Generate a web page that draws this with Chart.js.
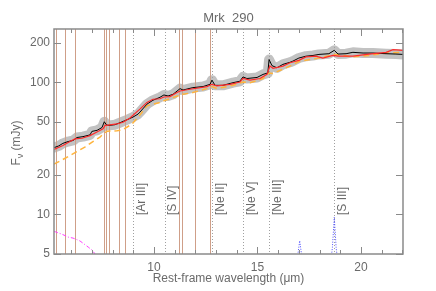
<!DOCTYPE html>
<html>
<head>
<meta charset="utf-8">
<script src="https://cdn.jsdelivr.net/npm/chart.js@4.4.0/dist/chart.umd.min.js"></script>
<style>
  html, body { margin: 0; padding: 0; background: #fff; }
</style>
</head>
<body>
<canvas id="sedChart" width="436" height="291"></canvas>
<script>
// observed spectrum (black, with grey error band)
const specWave = [5.17, 5.4, 5.6, 5.85, 6.1, 6.28, 6.57, 6.91, 7.0, 7.25, 7.49, 7.6, 7.71, 7.83, 8.12, 8.36, 8.7, 8.99, 9.23, 9.32, 9.66, 9.95, 10.29, 10.48, 10.68, 10.92, 11.26, 11.4, 11.88, 12.37, 12.71, 12.8, 12.95, 13.33, 13.82, 14.15, 14.3, 14.49, 14.98, 15.27, 15.5, 15.56, 15.7, 15.94, 16.23, 16.57, 16.71, 17.0, 17.34, 17.68, 17.97, 18.45, 18.71, 18.89, 19.28, 19.61, 20.1, 20.58, 21.21, 21.69, 22.03];
const specFlux = [32.0, 33.0, 34.5, 35.6, 36.3, 38.2, 38.8, 40.0, 42.5, 43.3, 45.5, 50.3, 47.5, 47.2, 47.8, 49.5, 52.1, 54.6, 57.5, 59.5, 68.4, 73.2, 77.1, 80.3, 78.9, 81.2, 89.7, 87.5, 91.3, 93.0, 96.7, 104, 95.0, 95.0, 99.5, 102, 110, 107, 109, 115, 118, 149, 134, 129, 137, 142, 145, 153, 158, 160, 163, 165, 175, 164, 165, 169, 167, 167, 165, 164, 163];

// model fit (red)
const modelWave = [5.17, 5.6, 5.94, 6.18, 6.52, 6.91, 7.29, 7.54, 7.63, 7.78, 8.21, 8.5, 8.84, 9.32, 9.66, 9.95, 10.29, 10.48, 10.77, 11.11, 11.26, 11.74, 12.56, 12.8, 13.04, 13.67, 14.15, 14.3, 14.64, 15.12, 15.46, 15.6, 15.75, 16.23, 16.57, 17.0, 17.34, 17.82, 18.16, 18.64, 18.9, 19.61, 20.39, 21.21, 21.55, 22.03];
const modelFlux = [31.0, 33.2, 35.6, 37.3, 37.7, 39.5, 42.4, 44.4, 47.0, 47.5, 48.4, 49.9, 53.7, 62.7, 70.5, 74.5, 75.2, 77.5, 78.0, 83.8, 86.1, 88.7, 93.0, 96.7, 94.0, 96.7, 100.7, 107, 104, 107, 115, 133, 128, 133, 141, 147, 156, 158, 153, 160, 158, 158, 164, 169, 177, 175];

// continuum component (orange dashed)
const contWave = [5.17, 5.5, 5.94, 6.66, 7.05, 7.39, 7.54, 7.73, 8.21, 8.5, 8.94, 9.32, 9.66, 10.29, 10.48, 10.92, 11.4, 11.88, 12.56, 12.8, 13.04, 13.82, 14.3, 14.64, 15.27, 15.56, 15.75, 16.57, 17.0, 17.97, 18.74, 19.61, 20.39, 21.21, 22.03];
const contFlux = [24.0, 25.5, 27.9, 32.3, 35.6, 38.4, 40.6, 42.6, 43.0, 43.8, 48.4, 56.5, 66.4, 70.5, 72.5, 76.8, 81.2, 83.8, 89.7, 93.0, 89.7, 95.0, 100.7, 99.5, 107, 118, 117, 133, 144, 153, 163, 156, 160, 167, 169];

// stellar component (magenta dash-dot)
const starWave = [5.17, 5.25, 5.4, 5.54, 5.7, 5.85, 6.09, 6.25, 6.43, 6.67, 6.85, 7.0, 7.2];
const starFlux = [7.4, 7.36, 7.2, 7.08, 6.9, 6.72, 6.6, 6.45, 6.27, 5.88, 5.6, 5.37, 4.9];

// emission lines (blue dotted)
const gasWave = [16.93, 16.99, 17.04, 17.09, 17.15, 17.5, 18.55, 18.62, 18.67, 18.71, 18.75, 18.8, 18.87];
const gasFlux = [4.7, 5.5, 6.3, 5.5, 4.7, null, 4.5, 5.6, 7.5, 9.5, 7.5, 5.6, 4.5];

const pahLines = [5.25, 5.7, 6.2, 7.6, 7.7, 7.85, 8.33, 8.61, 11.23, 11.33, 12.0, 12.7];
const ionLines = [8.99, 10.51, 12.81, 14.32, 15.56, 18.71];
const ionLabels = ["[Ar III]", "[S IV]", "[Ne II]", "[Ne V]", "[Ne III]", "[S III]"];
const xMajorTicks = [10, 15, 20];
const xMinorTicks = [6, 7, 8, 9, 11, 12, 13, 14, 16, 17, 18, 19, 21, 22];
const yTicks = [5, 10, 20, 50, 100, 200];

const FONT = "'Liberation Sans', Arial, sans-serif";
const TXT = "#6a6a6a";

function pts(xs, ys) {
  return xs.map((x, i) => ({ x: x, y: ys[i] }));
}

const framePlugin = {
  id: "frame",
  afterDatasetDraw(chart, args) {
    if (args.index !== 0) return;
    const { ctx, chartArea: a, scales: { x } } = chart;
    ctx.save();
    ctx.lineWidth = 1;
    ctx.strokeStyle = "#cf9f88";
    pahLines.forEach((w) => {
      const px = Math.round(x.getPixelForValue(w)) + 0.5;
      ctx.beginPath();
      ctx.moveTo(px, a.top);
      ctx.lineTo(px, a.bottom);
      ctx.stroke();
    });
    ctx.strokeStyle = "#a0a0a0";
    ctx.setLineDash([1, 2]);
    ionLines.forEach((w) => {
      const px = Math.round(x.getPixelForValue(w)) + 0.5;
      ctx.beginPath();
      ctx.moveTo(px, a.top);
      ctx.lineTo(px, a.bottom);
      ctx.stroke();
    });
    ctx.restore();
  },
  afterDraw(chart) {
    const { ctx, chartArea: a, scales: { x, y } } = chart;
    ctx.save();
    // box
    ctx.strokeStyle = "#8a8a8a";
    ctx.lineWidth = 1.5;
    ctx.strokeRect(a.left, a.top, a.right - a.left, a.bottom - a.top);
    // ticks pointing inward
    ctx.lineWidth = 1;
    ctx.beginPath();
    xMajorTicks.forEach((v) => {
      const px = Math.round(x.getPixelForValue(v)) + 0.5;
      ctx.moveTo(px, a.bottom); ctx.lineTo(px, a.bottom - 7);
      ctx.moveTo(px, a.top); ctx.lineTo(px, a.top + 7);
    });
    xMinorTicks.forEach((v) => {
      const px = Math.round(x.getPixelForValue(v)) + 0.5;
      ctx.moveTo(px, a.bottom); ctx.lineTo(px, a.bottom - 4);
      ctx.moveTo(px, a.top); ctx.lineTo(px, a.top + 4);
    });
    yTicks.forEach((v) => {
      const py = Math.round(y.getPixelForValue(v)) + 0.5;
      ctx.moveTo(a.left, py); ctx.lineTo(a.left + 7, py);
      ctx.moveTo(a.right, py); ctx.lineTo(a.right - 7, py);
    });
    ctx.stroke();

    // line labels
    ctx.fillStyle = TXT;
    ctx.font = "12px " + FONT;
    ionLines.forEach((w, i) => {
      const px = x.getPixelForValue(w) + 8.5;
      ctx.save();
      ctx.translate(px, 215);
      ctx.rotate(-Math.PI / 2);
      ctx.textAlign = "left";
      ctx.textBaseline = "middle";
      ctx.fillText(ionLabels[i], 0, 0);
      ctx.restore();
    });

    // title
    ctx.font = "13px " + FONT;
    ctx.textAlign = "center";
    ctx.textBaseline = "middle";
    ctx.fillText("Mrk  290", (a.left + a.right) / 2, 18);

    // x axis title
    ctx.font = "12px " + FONT;
    ctx.fillText("Rest-frame wavelength (\u03bcm)", (a.left + a.right) / 2, 279);

    // y axis title: F_nu (mJy)
    ctx.save();
    ctx.translate(17, 143);
    ctx.rotate(-Math.PI / 2);
    ctx.textAlign = "left";
    ctx.textBaseline = "middle";
    const part1 = "F";
    const part2 = "\u03bd";
    const part3 = " (mJy)";
    ctx.font = "12px " + FONT;
    const w1 = ctx.measureText(part1).width;
    const w3 = ctx.measureText(part3).width;
    ctx.font = "9px " + FONT;
    const w2 = ctx.measureText(part2).width;
    const start = -(w1 + w2 + w3) / 2;
    ctx.font = "12px " + FONT;
    ctx.fillText(part1, start, 0);
    ctx.font = "9px " + FONT;
    ctx.fillText(part2, start + w1, 4);
    ctx.font = "12px " + FONT;
    ctx.fillText(part3, start + w1 + w2, 0);
    ctx.restore();

    ctx.restore();
  }
};

new Chart(document.getElementById("sedChart"), {
  type: "line",
  data: {
    datasets: [
      {
        label: "error",
        data: pts(specWave, specFlux),
        borderColor: "#c2c2c2",
        borderWidth: 10,
        borderJoinStyle: "round",
        borderCapStyle: "round",
        pointRadius: 0,
        fill: false,
        clip: 0,
        order: 10
      },
      {
        label: "continuum",
        data: pts(contWave, contFlux),
        borderColor: "#ffb43c",
        borderWidth: 1.5,
        borderDash: [6, 4],
        pointRadius: 0,
        fill: false,
        clip: 0,
        order: 4
      },
      {
        label: "stars",
        data: pts(starWave, starFlux),
        borderColor: "#ff3cff",
        borderWidth: 1,
        borderDash: [4, 2, 1, 2],
        pointRadius: 0,
        fill: false,
        clip: 0,
        order: 5
      },
      {
        label: "lines",
        data: pts(gasWave, gasFlux),
        borderColor: "#4a4aff",
        borderWidth: 1,
        borderDash: [1, 1.5],
        pointRadius: 0,
        spanGaps: false,
        fill: false,
        clip: 0,
        order: 5
      },
      {
        label: "spectrum",
        data: pts(specWave, specFlux),
        borderColor: "#000000",
        borderWidth: 1,
        pointRadius: 0,
        fill: false,
        clip: 0,
        order: 2
      },
      {
        label: "model",
        data: pts(modelWave, modelFlux),
        borderColor: "#ff2a2a",
        borderWidth: 1.2,
        pointRadius: 0,
        fill: false,
        clip: 0,
        order: 1
      }
    ]
  },
  options: {
    responsive: false,
    animation: false,
    devicePixelRatio: 1,
    layout: { padding: { left: 0, right: 33, top: 29, bottom: 0 } },
    plugins: {
      legend: { display: false },
      tooltip: { enabled: false }
    },
    scales: {
      x: {
        type: "linear",
        min: 5.17,
        max: 22.03,
        afterFit: (s) => { s.height = 37; },
        afterBuildTicks: (s) => { s.ticks = xMajorTicks.map((v) => ({ value: v })); },
        grid: { display: false, drawTicks: false },
        border: { display: false },
        ticks: {
          padding: 6,
          color: TXT,
          font: { family: FONT, size: 12 },
          callback: (v) => String(v)
        }
      },
      y: {
        type: "logarithmic",
        min: 5,
        max: 254,
        afterFit: (s) => { s.width = 54; },
        afterBuildTicks: (s) => { s.ticks = yTicks.map((v) => ({ value: v })); },
        grid: { display: false, drawTicks: false },
        border: { display: false },
        ticks: {
          padding: 4,
          color: TXT,
          font: { family: FONT, size: 12 },
          callback: (v) => String(v)
        }
      }
    }
  },
  plugins: [framePlugin]
});
</script>
</body>
</html>
